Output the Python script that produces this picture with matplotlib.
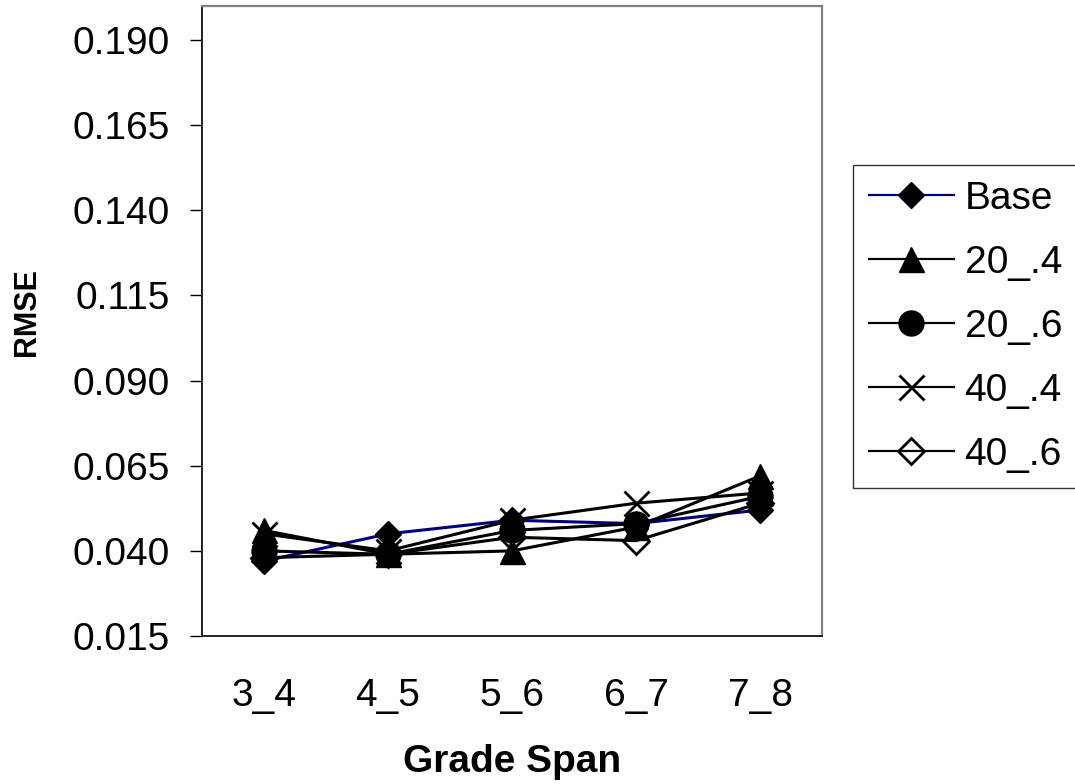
import matplotlib
matplotlib.use("Agg")
import matplotlib.pyplot as plt

plt.rcParams['font.family'] = ['Liberation Sans', 'DejaVu Sans']

categories = ['3_4', '4_5', '5_6', '6_7', '7_8']
base = [0.037, 0.045, 0.049, 0.048, 0.052]
s20_4 = [0.046, 0.039, 0.040, 0.047, 0.062]
s20_6 = [0.040, 0.039, 0.046, 0.048, 0.056]
s40_4 = [0.045, 0.040, 0.049, 0.054, 0.057]
s40_6 = [0.038, 0.039, 0.044, 0.043, 0.054]
yticks = [0.015, 0.040, 0.065, 0.090, 0.115, 0.140, 0.165, 0.190]
ytick_labels = ['0.015', '0.040', '0.065', '0.090', '0.115', '0.140', '0.165', '0.190']

fig = plt.figure(figsize=(10.75, 7.84), dpi=100)
ax = fig.add_axes([202/1075, 148/784, 620/1075, 630/784])

x = list(range(len(categories)))
lw = 2.2
ax.plot(x, base, color='#000080', lw=lw, marker='D', ms=13, mfc='black', mec='black', label='Base')
ax.plot(x, s20_4, color='black', lw=lw, marker='^', ms=18, mfc='black', mec='black', label='20_.4')
ax.plot(x, s20_6, color='black', lw=lw, marker='o', ms=18, mfc='black', mec='black', label='20_.6')
ax.plot(x, s40_4, color='black', lw=lw, marker='x', ms=18, mew=2, mec='black', label='40_.4')
ax.plot(x, s40_6, color='black', lw=lw, marker='D', ms=13, mfc='none', mec='black', mew=2, label='40_.6')

ax.set_xlim(-0.5, len(categories) - 0.5)
ax.set_ylim(0.015, 0.200)
ax.set_xticks(x)
ax.set_xticklabels(categories, fontsize=28)
ax.set_yticks(yticks)
ax.set_yticklabels(ytick_labels, fontsize=28)
ax.tick_params(axis='x', length=0, pad=30)
ax.tick_params(axis='y', direction='out', length=8.6, width=1, pad=14.4, colors='black')

for side in ['top', 'right']:
    ax.spines[side].set_color('#808080')
    ax.spines[side].set_linewidth(1.6)
for side in ['left', 'bottom']:
    ax.spines[side].set_color('#222222')
    ax.spines[side].set_linewidth(1.4)

ax.set_xlabel('Grade Span', fontsize=28, fontweight='bold')
ax.xaxis.set_label_coords(0.5, -0.1714)
ax.set_ylabel('RMSE', fontsize=22, fontweight='bold')
ax.yaxis.set_label_coords(-0.258, 0.515)

leg = ax.legend(loc='upper left', bbox_to_anchor=(853/1075, 1 - 165/784),
                bbox_transform=fig.transFigure, fontsize=28, frameon=True,
                fancybox=False, borderaxespad=0, borderpad=0.4, labelspacing=0.72,
                handlelength=2.19, handletextpad=0.28)
leg.get_frame().set_edgecolor('black')
leg.get_frame().set_linewidth(1.0)
for line in leg.get_lines():
    line.set_linewidth(1.6)

fig.savefig('out.png', dpi=100)
